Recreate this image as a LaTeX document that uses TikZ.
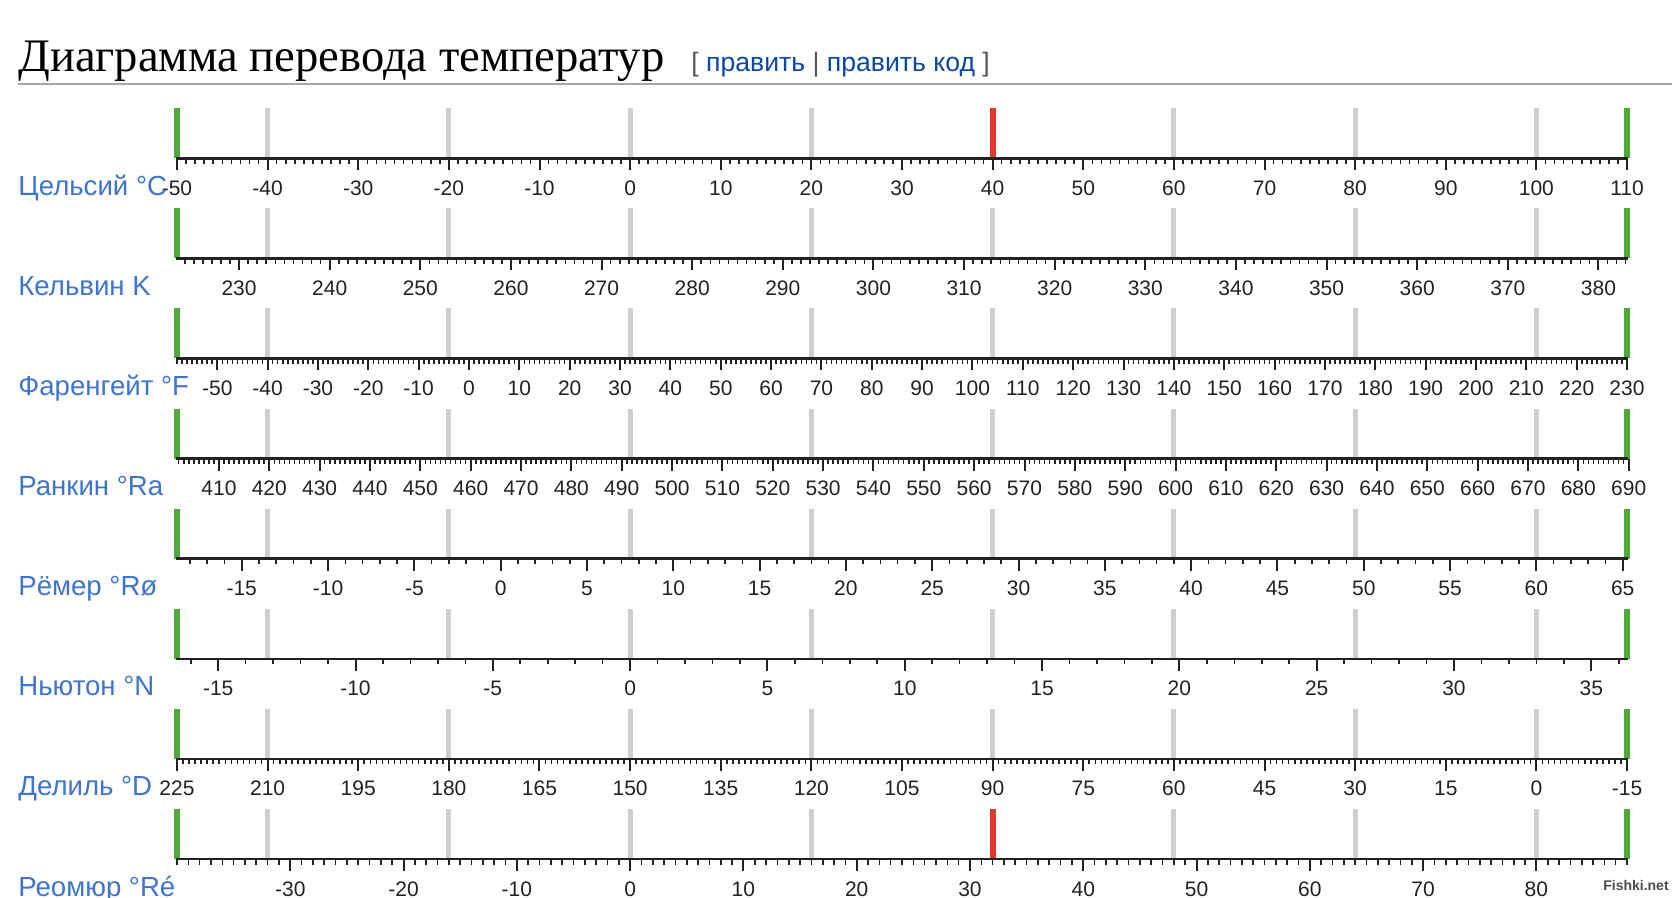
\documentclass[tikz,border=0pt]{standalone}
\usepackage{fontspec}
\setmainfont{Liberation Sans}
\newfontfamily\titlefont{Liberation Serif}
\definecolor{namblue}{HTML}{3F74D0}
\definecolor{linkblue}{HTML}{0B48A8}
\definecolor{brgray}{HTML}{54595D}
\definecolor{rulegray}{HTML}{A2A9B1}
\definecolor{bargray}{HTML}{CFCFCF}
\definecolor{bargreen}{HTML}{4FAA3A}
\definecolor{barred}{HTML}{DC3A2A}
\definecolor{axisblk}{HTML}{222222}
\tikzset{
  numlab/.style={font=\fontsize{10.5}{12}\selectfont, text=axisblk, inner sep=0pt, anchor=base},
  scalename/.style={font=\fontsize{13.8}{15}\selectfont, text=namblue, inner sep=0pt, anchor=base west},
  titlestyle/.style={font=\titlefont\fontsize{23.3}{28}\selectfont, inner sep=0pt, anchor=base west},
  linkstyle/.style={font=\fontsize{13.3}{15}\selectfont, inner sep=0pt, anchor=base west},
  axisline/.style={line width=1.25pt, draw=axisblk},
  minortick/.style={line width=0.8pt, draw=axisblk},
  majortick/.style={line width=1pt, draw=axisblk},
  graybar/.style={line width=2.5pt, draw=bargray},
  greenbar/.style={line width=3pt, draw=bargreen},
  redbar/.style={line width=3pt, draw=barred},
  rulestyle/.style={line width=0.8pt, draw=rulegray},
  wmark/.style={font=\fontsize{7}{8}\selectfont\bfseries, text=black!70, inner sep=0pt}
}
% #1 row, #2 name, #3 a, #4 b (C = a*v+b), #5 vmin, #6 vmax, #7 major list, #8 style of 40C bar
\newcommand{\trow}[8]{%
  \pgfmathsetmacro{\ay}{158.3+100.1*#1}%
  \pgfmathsetmacro{\ly}{\ay+37}%
  \foreach \c in {-40,-20,0,20,60,80,100}{%
    \pgfmathsetmacro{\bx}{177+(\c+50)*9.0625}%
    \draw[graybar] (\bx,\ay-50) -- (\bx,\ay);
  }
  \pgfmathsetmacro{\bx}{177+(40+50)*9.0625}%
  \draw[#8] (\bx,\ay-50) -- (\bx,\ay);
  \draw[greenbar] (177,\ay-50) -- (177,\ay);
  \draw[greenbar] (1627,\ay-50) -- (1627,\ay);
  \draw[axisline] (176,\ay) coordinate (a#1w) -- (1628,\ay) coordinate (a#1e);
  \foreach \v in {#5,...,#6}{%
    \pgfmathsetmacro{\tx}{177+((#3)*\v+(#4)+50)*9.0625}%
    \draw[minortick] (\tx,\ay) -- (\tx,\ay+5.5);
  }
  \foreach \v [count=\k] in {#7}{%
    \pgfmathsetmacro{\tx}{177+((#3)*\v+(#4)+50)*9.0625}%
    \draw[majortick] (\tx,\ay) -- (\tx,\ay+12);
    \node[numlab] (l#1-\k) at (\tx,\ly) {\v};
  }
  \node[scalename] (s#1) at (18,\ly) {#2};
}
\begin{document}
\begin{tikzpicture}[x=0.5pt,y=-0.5pt]
  \useasboundingbox (0,0) rectangle (1672,898);
  \fill[white] (0,0) rectangle (1672,898);
  \clip (0,0) rectangle (1672,898);
  \node[titlestyle] (title) at (18,72) {Диаграмма перевода температур};
  \node[linkstyle] (links) at (691,72) {\textcolor{brgray}{[} \textcolor{linkblue}{править} \textcolor{brgray}{|} \textcolor{linkblue}{править код} \textcolor{brgray}{]}};
  \coordinate (rl) at (18,84);
  \coordinate (rr) at (1672,84);
  \draw[rulestyle] (rl) -- (rr);
  \trow{0}{Цельсий °C}{1}{0}{-50}{110}{-50,-40,...,110}{redbar}
  \trow{1}{Кельвин K}{1}{-273.15}{224}{383}{230,240,...,380}{graybar}
  \trow{2}{Фаренгейт °F}{0.5555556}{-17.777778}{-58}{230}{-50,-40,...,230}{graybar}
  \trow{3}{Ранкин °Ra}{0.5555556}{-273.15}{402}{689}{410,420,...,690}{graybar}
  \trow{4}{Рёмер °Rø}{1.9047619}{-14.285714}{-18}{65}{-15,-10,...,65}{graybar}
  \trow{5}{Ньютон °N}{3.030303}{0}{-16}{36}{-15,-10,...,35}{graybar}
  \trow{6}{Делиль °D}{-0.6666667}{100}{-15}{225}{-15,0,...,225}{graybar}
  \trow{7}{Реомюр °Ré}{1.25}{0}{-40}{88}{-30,-20,...,80}{redbar}
  \node[wmark] (wm) at (1636,885) {Fishki.net};
\end{tikzpicture}
\end{document}
